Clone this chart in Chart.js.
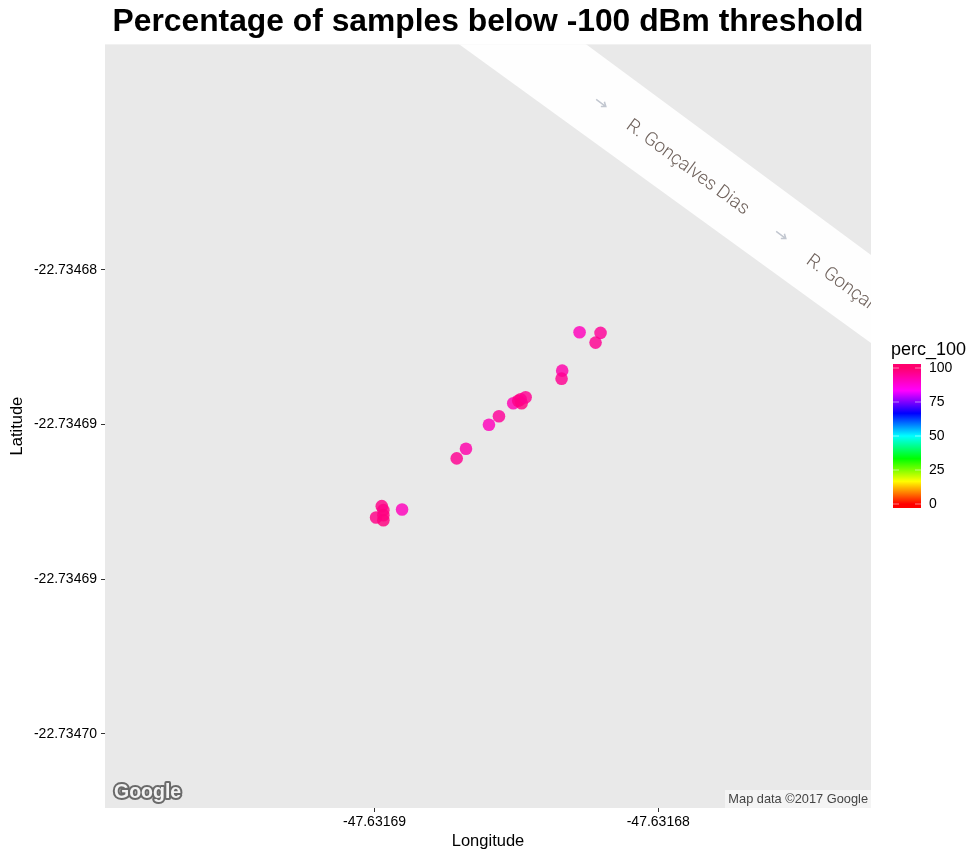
<!DOCTYPE html>
<html><head><meta charset="utf-8">
<script src="https://cdn.jsdelivr.net/npm/chart.js"></script>
<style>html,body{margin:0;padding:0;background:#fff}canvas{display:block}</style>
</head><body><div style="width:970px;height:856px"><canvas id="c" width="970" height="856"></canvas></div>
<script>
const longitude = [-47.631682772,-47.631682033,-47.631682209,-47.631683385,-47.631683406,-47.63168511,-47.631684934,-47.631684815,-47.63168485,-47.631684674,-47.631685614,-47.631685966,-47.631686776,-47.631687103,-47.631689029,-47.631689744,-47.631689688,-47.631689688,-47.631689945,-47.631689688];
const latitude = [-22.734687014,-22.734687037,-22.734687351,-22.734688258,-22.734688517,-22.734689313,-22.734689229,-22.734689313,-22.734689184,-22.734689119,-22.734689734,-22.734690006,-22.734690784,-22.734691095,-22.734692746,-22.734692639,-22.734692769,-22.734692931,-22.734693005,-22.734693093];
const perc100 = [91,95,96,93,96,92,97,98,97,96,95,91,93,96,91,97,97,98,97,98];
const xTickValues = [-47.63169,-47.63168];
const xTickLabels = ['-47.63169','-47.63168'];
const yTickValues = [-22.734685,-22.73469,-22.734695,-22.7347];
const yTickLabels = ['-22.73468','-22.73469','-22.73469','-22.73470'];
const legendValues = [0,25,50,75,100];
const colorStops = [[0,[255,0,0]],[16.7,[255,255,0]],[33.3,[0,255,0]],[50,[0,255,255]],[66.7,[0,0,255]],[83.3,[255,0,255]],[100,[255,0,110]]];

function colorFor(v,a){
  for(let i=1;i<colorStops.length;i++){
    const [v0,c0]=colorStops[i-1],[v1,c1]=colorStops[i];
    if(v<=v1){const t=(v-v0)/(v1-v0);
      const m=c0.map((c,k)=>Math.round(c+(c1[k]-c)*t));
      return `rgba(${m[0]},${m[1]},${m[2]},${a})`;}
  }
  return 'rgba(255,0,110,'+a+')';
}

const mapBackground = {
  id:'mapBackground',
  beforeDatasetsDraw(chart){
    const {ctx,chartArea:a}=chart;
    ctx.save();
    ctx.beginPath();ctx.rect(a.left,a.top,a.right-a.left,a.bottom-a.top);ctx.clip();
    ctx.fillStyle='#e9e9e9';ctx.fillRect(a.left,a.top,a.right-a.left,a.bottom-a.top);
    ctx.fillStyle='#fefefe';
    ctx.beginPath();ctx.moveTo(456,42);ctx.lineTo(583,42);ctx.lineTo(875,258);ctx.lineTo(875,346);ctx.closePath();ctx.fill();
    const rot=36.3*Math.PI/180;
    const label=(s,x,y)=>{ctx.save();ctx.translate(x,y);ctx.rotate(rot);ctx.fillStyle='#6f625c';
      ctx.font='300 18.8px Roboto';ctx.textAlign='left';ctx.textBaseline='middle';ctx.fillText(s,0,0);ctx.restore();};
    label('R. Gonçalves Dias',628,124);
    label('R. Gonçalves Dias',808,259);
    const arrow=(x,y)=>{ctx.save();ctx.translate(x,y);ctx.rotate(rot);ctx.strokeStyle='#c2c7d0';ctx.lineWidth=1.5;
      ctx.beginPath();ctx.moveTo(-6,0);ctx.lineTo(6,0);ctx.moveTo(2,-3);ctx.lineTo(6,0);ctx.lineTo(2,3);ctx.stroke();ctx.restore();};
    arrow(601,103);arrow(781,235);
    ctx.fillStyle='#f4f4f4';ctx.fillRect(725,790,146,18);
    ctx.fillStyle='#444';ctx.font='12.8px "Liberation Sans"';ctx.textAlign='right';ctx.textBaseline='middle';
    ctx.fillText('Map data ©2017 Google',868,799);
    ctx.font='bold 19.5px "Liberation Sans"';ctx.textAlign='left';ctx.lineJoin='round';
    ctx.strokeStyle='#6a6a6a';ctx.lineWidth=4;ctx.strokeText('Google',114,793);
    ctx.fillStyle='#f2f2f2';ctx.fillText('Google',114,793);
    ctx.restore();
  }
};

const colorBar = {
  id:'colorBar',
  afterDraw(chart){
    const ctx=chart.ctx,x=893,w=28,top=364,bottom=508,y0=504,y100=368;
    const py=v=>y0+(y100-y0)*v/100;
    ctx.save();
    const g=ctx.createLinearGradient(0,y0,0,y100);
    colorStops.forEach(([v,c])=>g.addColorStop(v/100,`rgb(${c[0]},${c[1]},${c[2]})`));
    ctx.fillStyle=g;ctx.fillRect(x,top,w,bottom-top);
    ctx.fillStyle='#000';ctx.font='18px "Liberation Sans"';ctx.textBaseline='middle';ctx.textAlign='left';
    ctx.fillText('perc_100',891,350);
    ctx.font='14px "Liberation Sans"';
    legendValues.forEach(v=>{
      const y=py(v);
      ctx.fillStyle='#000';ctx.fillText(String(v),929,y);
      ctx.strokeStyle='rgba(255,255,255,0.5)';ctx.lineWidth=1;
      ctx.beginPath();ctx.moveTo(x,y);ctx.lineTo(x+6,y);ctx.moveTo(x+w-6,y);ctx.lineTo(x+w,y);ctx.stroke();
    });
    ctx.restore();
  }
};

new Chart(document.getElementById('c'),{
  type:'scatter',
  data:{datasets:[{
    data:longitude.map((x,i)=>({x,y:latitude[i]})),
    pointRadius:6.3,pointBorderWidth:0,pointHoverRadius:6.3,
    pointBackgroundColor:perc100.map(v=>colorFor(v,0.82))
  }]},
  plugins:[mapBackground,colorBar],
  options:{
    responsive:false,animation:false,
    layout:{padding:{left:0,right:99,top:0,bottom:0}},
    plugins:{legend:{display:false},tooltip:{enabled:false},
      title:{display:true,fullSize:false,text:'Percentage of samples below -100 dBm threshold',color:'#000',
        font:{family:'"Liberation Sans"',size:31.8,weight:'bold'},padding:{top:3,bottom:3}}},
    scales:{
      x:{type:'linear',min:-47.6316995,max:-47.6316725,
        afterFit(s){s.height=48;},
        afterBuildTicks(s){s.ticks=xTickValues.map(value=>({value}));},
        grid:{drawOnChartArea:false,drawTicks:true,tickLength:4,tickColor:'#333'},border:{display:false},
        ticks:{autoSkip:false,maxRotation:0,color:'#000',padding:2,font:{family:'"Liberation Sans"',size:14},
          callback(v,i){return xTickLabels[i];}},
        title:{display:true,text:'Longitude',color:'#000',font:{family:'"Liberation Sans"',size:16.5},padding:{top:0,bottom:5}}},
      y:{type:'linear',min:-22.7347024,max:-22.7346777,
        afterFit(s){s.width=105;},
        afterBuildTicks(s){s.ticks=yTickValues.map(value=>({value}));},
        grid:{drawOnChartArea:false,drawTicks:true,tickLength:4,tickColor:'#333'},border:{display:false},
        ticks:{autoSkip:false,color:'#000',padding:4,font:{family:'"Liberation Sans"',size:14},
          callback(v,i){return yTickLabels[i];}},
        title:{display:true,text:'Latitude',color:'#000',font:{family:'"Liberation Sans"',size:16.5},padding:{top:8,bottom:0}}}
    }
  }
});
</script></body></html>
